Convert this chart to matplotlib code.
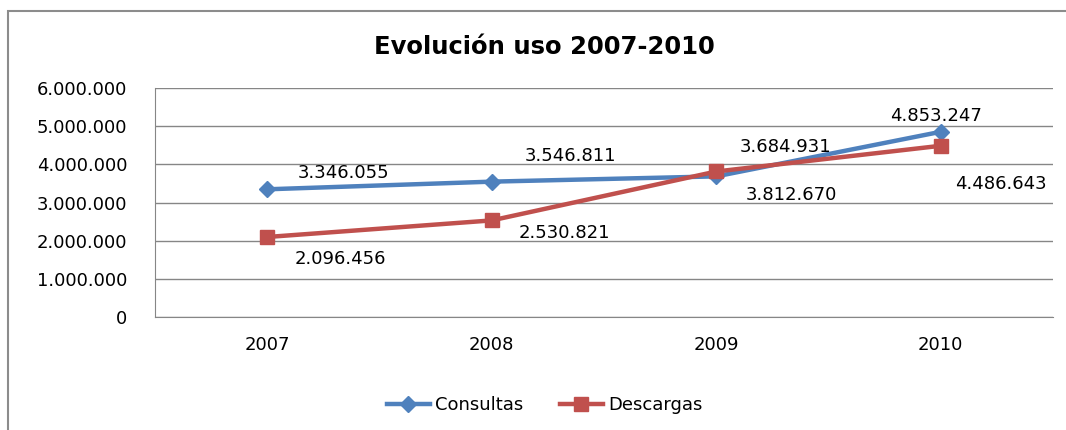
import matplotlib
matplotlib.use("Agg")
import matplotlib.pyplot as plt
from matplotlib.patches import Rectangle

years = ["2007", "2008", "2009", "2010"]
consultas = [3346055, 3546811, 3684931, 4853247]
descargas = [2096456, 2530821, 3812670, 4486643]
yticks = [0, 1000000, 2000000, 3000000, 4000000, 5000000, 6000000]

# label offsets in pixels
off_consultas = [(76, 16), (79, 26), (69, 29), (-5, 16)]
off_descargas = [(73, -22), (73, -13), (75, -24), (60, -38)]

def fmt(v):
    # spanish thousands separator
    return "{:,}".format(v).replace(",", ".")

blue = "#4F81BD"
red = "#C0504D"
grid = "#868686"

fig = plt.figure(figsize=(10.66, 4.30), dpi=100)
ax = fig.add_axes([0.1454, 0.2628, 0.8424, 0.5325])

# outer chart border (top and left visible, rest cut off)
fig.patches.append(Rectangle((8 / 1066, -0.1), 1.2, 1.1 - 11 / 430,
                             transform=fig.transFigure, fill=False,
                             edgecolor="#8c8c8c", linewidth=1.5))

x = list(range(len(years)))
ax.plot(x, consultas, color=blue, lw=3.2, marker="D", ms=8, label="Consultas", zorder=3)
ax.plot(x, descargas, color=red, lw=3.2, marker="s", ms=10, label="Descargas", zorder=3)

for i in x:
    ax.annotate(fmt(consultas[i]), (i, consultas[i]), xytext=off_consultas[i],
                textcoords="offset pixels", ha="center", va="center", fontsize=13)
    ax.annotate(fmt(descargas[i]), (i, descargas[i]), xytext=off_descargas[i],
                textcoords="offset pixels", ha="center", va="center", fontsize=13)

ax.set_xlim(-0.5, 3.5)
ax.set_ylim(0, 6000000)
ax.set_xticks(x)
ax.set_xticklabels(years, fontsize=13)
ax.set_yticks(yticks)
ax.set_yticklabels([fmt(v) for v in yticks], fontsize=13)
ax.tick_params(length=0, pad=14)
ax.tick_params(axis="y", pad=20)
ax.yaxis.grid(True, color=grid, lw=1)
ax.set_axisbelow(True)
for s in ["top", "right"]:
    ax.spines[s].set_visible(False)
for s in ["left", "bottom"]:
    ax.spines[s].set_color(grid)

fig.text(0.511, 0.89, "Evolución uso 2007-2010", ha="center", va="center",
         fontsize=17.5, fontweight="bold")

fig.legend(loc="center", bbox_to_anchor=(0.511, 0.058), ncol=2, frameon=False,
           fontsize=13, handlelength=2.4, columnspacing=2.0, handletextpad=0.3)

fig.savefig("out.png", dpi=100)
